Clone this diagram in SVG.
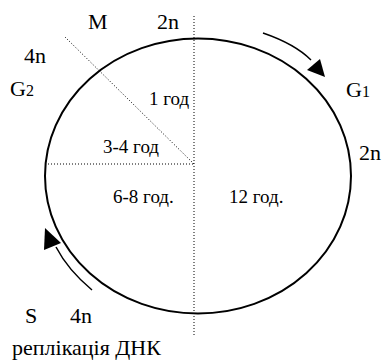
<svg xmlns="http://www.w3.org/2000/svg" width="392" height="362" viewBox="0 0 392 362">
<style>
.dot{stroke:#000;stroke-width:1;stroke-dasharray:1,2;fill:none}
.cyc{stroke:#000;stroke-width:2;fill:none}
.arr{stroke:#000;stroke-width:1.5;fill:none}
</style>
<rect width="392" height="362" fill="#fff"/>
<g id="cycle">
<ellipse class="cyc" cx="198" cy="176" rx="153" ry="137.5"/>
</g>
<g id="connectors">
<line class="dot" x1="194" y1="16" x2="194" y2="335"/>
<line class="dot" x1="45" y1="164" x2="194" y2="164"/>
<line class="dot" x1="65" y1="37" x2="194" y2="164"/>
<path class="arr" d="M263,33 Q295,44 311,60"/>
<polygon points="307,70 320,59 325,77" fill="#000"/>
<path class="arr" d="M92,290 Q68,270 56,247"/>
<polygon points="45,228 44,250 61,243" fill="#000"/>
</g>
<g id="labels" font-family="'Liberation Serif', 'Times New Roman', serif" fill="#000">
<g font-size="22">
<text x="88" y="29">M</text>
<text x="157" y="29">2n</text>
<text x="24" y="63">4n</text>
<text x="10" y="96">G<tspan font-size="16">2</tspan></text>
<text x="346" y="97">G<tspan font-size="16">1</tspan></text>
<text x="359" y="160">2n</text>
<text x="25" y="323">S</text>
<text x="70" y="323">4n</text>
<text x="12" y="355">реплікація ДНК</text>
</g>
<g font-size="19">
<text x="149" y="105">1 год</text>
<text x="103" y="153">3-4 год</text>
<text x="113" y="203">6-8 год.</text>
<text x="229" y="203">12 год.</text>
</g>
</g>
</svg>
